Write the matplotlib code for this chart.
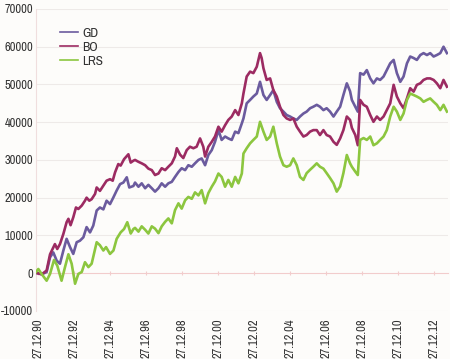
import matplotlib
matplotlib.use("Agg")
import matplotlib.pyplot as plt

plt.rcParams['font.family'] = ['Archivo Narrow', 'Liberation Sans Narrow', 'DejaVu Sans']

# ---- data (decimal years, values) ----
gd_years = [1990.95, 1991.20, 1991.47, 1991.66, 1991.84, 1992.03, 1992.21, 1992.40, 1992.58, 1992.77,
            1992.95, 1993.14, 1993.32, 1993.51, 1993.69, 1993.88, 1994.06, 1994.25, 1994.43, 1994.62,
            1994.80, 1994.99, 1995.18, 1995.36, 1995.55, 1995.73, 1995.92, 1996.06, 1996.29, 1996.38,
            1996.57, 1996.75, 1996.94, 1997.12, 1997.31, 1997.49, 1997.68, 1997.86, 1998.05, 1998.23,
            1998.42, 1998.60, 1998.79, 1998.97, 1999.16, 1999.34, 1999.53, 1999.71, 1999.90, 2000.08,
            2000.27, 2000.45, 2000.64, 2000.82, 2001.01, 2001.19, 2001.38, 2001.56, 2001.75, 2001.94,
            2002.12, 2002.31, 2002.40, 2002.58, 2002.77, 2002.95, 2003.14, 2003.32, 2003.51, 2003.69,
            2003.88, 2004.06, 2004.25, 2004.43, 2004.62, 2004.80, 2004.99, 2005.17, 2005.36, 2005.54,
            2005.73, 2005.91, 2006.10, 2006.28, 2006.47, 2006.65, 2006.84, 2007.02, 2007.21, 2007.40,
            2007.58, 2007.77, 2007.95, 2008.14, 2008.32, 2008.42, 2008.61, 2008.75, 2008.88, 2009.07,
            2009.25, 2009.44, 2009.62, 2009.81, 2009.99, 2010.18, 2010.36, 2010.55, 2010.74, 2010.92,
            2011.11, 2011.29, 2011.48, 2011.66, 2011.85, 2012.03, 2012.22, 2012.40, 2012.59, 2012.77,
            2012.96, 2013.14, 2013.33, 2013.51, 2013.70]
gd_values = [0, -300, 300, 4200, 5500, 3300, 2500, 6000, 9100, 6900,
             5100, 8200, 8600, 9500, 12200, 10800, 12600, 16600, 17400, 16900,
             19200, 18300, 20100, 21900, 23600, 24000, 25400, 22700, 23100, 24000,
             22900, 23800, 22500, 23400, 22500, 21600, 22500, 23800, 22900, 23800,
             24200, 25500, 26800, 27800, 27300, 28600, 28200, 29100, 30000, 30400,
             28600, 31300, 32600, 34800, 37900, 35300, 36200, 35700, 35300, 37500,
             37100, 39700, 41000, 45000, 45900, 46800, 47600, 50700, 47200, 45900,
             47200, 48500, 45400, 43700, 42800, 41900, 41500, 41000, 40600, 41500,
             42300, 42800, 43700, 44100, 44600, 44100, 43200, 43700, 42800, 41500,
             42800, 44100, 47200, 50300, 48200, 45900, 44100, 42800, 53000, 52600,
             53800, 51600, 50300, 51600, 51200, 52100, 53800, 55600, 56500, 53000,
             50700, 52100, 55600, 57400, 57000, 56500, 57800, 58300, 57800, 58300,
             57400, 57800, 58300, 60000, 58300]

bo_years = [1990.95, 1991.20, 1991.47, 1991.66, 1991.80, 1991.93, 1992.06, 1992.21, 1992.40, 1992.58,
            1992.68, 1992.80, 1992.95, 1993.10, 1993.23, 1993.42, 1993.60, 1993.69, 1993.84, 1993.97,
            1994.16, 1994.25, 1994.43, 1994.62, 1994.80, 1994.99, 1995.14, 1995.27, 1995.45, 1995.58,
            1995.77, 1996.01, 1996.14, 1996.29, 1996.38, 1996.57, 1996.75, 1996.94, 1997.12, 1997.31,
            1997.49, 1997.68, 1997.86, 1998.05, 1998.23, 1998.42, 1998.60, 1998.70, 1998.88, 1999.06,
            1999.25, 1999.43, 1999.62, 1999.80, 1999.99, 2000.17, 2000.27, 2000.45, 2000.64, 2000.82,
            2001.01, 2001.19, 2001.38, 2001.56, 2001.75, 2001.94, 2002.12, 2002.31, 2002.40, 2002.58,
            2002.77, 2002.95, 2003.14, 2003.32, 2003.41, 2003.51, 2003.69, 2003.88, 2004.06, 2004.25,
            2004.43, 2004.62, 2004.80, 2004.99, 2005.17, 2005.36, 2005.54, 2005.73, 2005.91, 2006.10,
            2006.28, 2006.47, 2006.65, 2006.84, 2007.02, 2007.21, 2007.40, 2007.58, 2007.77, 2007.95,
            2008.14, 2008.32, 2008.42, 2008.61, 2008.75, 2008.88, 2009.07, 2009.25, 2009.44, 2009.62,
            2009.81, 2009.99, 2010.18, 2010.36, 2010.55, 2010.74, 2010.92, 2011.11, 2011.29, 2011.48,
            2011.66, 2011.85, 2012.03, 2012.22, 2012.40, 2012.59, 2012.77, 2012.96, 2013.14, 2013.33,
            2013.51, 2013.70]
bo_values = [0, -300, 700, 5000, 6400, 7700, 6400, 7700, 10400, 13500,
             14400, 12700, 14800, 17400, 17000, 17900, 19200, 20000, 19200, 19600,
             21000, 22700, 21800, 23200, 24500, 24900, 24500, 26700, 28900, 28500,
             30200, 31500, 29300, 29800, 30000, 29500, 29100, 28600, 27700, 27300,
             26000, 26400, 27800, 27300, 28200, 29100, 30900, 33100, 31400, 30500,
             32600, 33500, 33100, 33500, 35700, 33500, 30900, 33500, 34800, 36200,
             38800, 37500, 39200, 40600, 41500, 43200, 41900, 45000, 47600, 52100,
             53400, 53000, 54700, 58300, 57000, 54300, 51200, 51600, 48500, 46800,
             44100, 41900, 41000, 40600, 41000, 38800, 37500, 36200, 36600, 37500,
             37900, 37900, 36600, 37900, 36600, 36200, 34800, 34000, 35700, 37900,
             41500, 40600, 38500, 36600, 33900, 45900, 44600, 44100, 41900, 40100,
             41500, 40600, 41500, 43200, 45000, 49900, 46800, 45000, 43700, 46300,
             49000, 48100, 49900, 50300, 51200, 51600, 51600, 51200, 50300, 49000,
             51200, 49400]

lrs_years = [1990.88, 1991.01, 1991.19, 1991.47, 1991.66, 1991.88, 1992.06, 1992.30, 1992.49, 1992.68,
             1992.86, 1993.05, 1993.23, 1993.42, 1993.60, 1993.79, 1993.97, 1994.25, 1994.43, 1994.62,
             1994.77, 1994.99, 1995.18, 1995.36, 1995.58, 1995.77, 1995.95, 1996.14, 1996.29, 1996.38,
             1996.57, 1996.75, 1996.94, 1997.12, 1997.31, 1997.49, 1997.68, 1997.86, 1998.05, 1998.23,
             1998.42, 1998.60, 1998.79, 1998.97, 1999.16, 1999.34, 1999.53, 1999.71, 1999.90, 2000.08,
             2000.27, 2000.45, 2000.64, 2000.82, 2001.01, 2001.19, 2001.38, 2001.56, 2001.75, 2001.94,
             2002.12, 2002.31, 2002.40, 2002.58, 2002.77, 2002.95, 2003.14, 2003.32, 2003.51, 2003.69,
             2003.88, 2004.06, 2004.25, 2004.43, 2004.62, 2004.80, 2004.99, 2005.17, 2005.36, 2005.54,
             2005.73, 2005.91, 2006.10, 2006.28, 2006.47, 2006.65, 2006.84, 2007.02, 2007.21, 2007.40,
             2007.58, 2007.77, 2007.95, 2008.14, 2008.32, 2008.42, 2008.61, 2008.75, 2008.88, 2009.07,
             2009.25, 2009.44, 2009.62, 2009.81, 2009.99, 2010.18, 2010.36, 2010.55, 2010.74, 2010.92,
             2011.11, 2011.29, 2011.48, 2011.66, 2011.85, 2012.03, 2012.22, 2012.40, 2012.59, 2012.77,
             2012.96, 2013.14, 2013.33, 2013.51, 2013.70]
lrs_values = [300, 1100, -200, -2000, -200, 3500, 2000, -2000, 1600, 5000,
              2500, -2800, -200, 300, 2900, 1600, 2500, 8200, 7400, 6000,
              6900, 5100, 6000, 9100, 10800, 11700, 13500, 10500, 11700, 12000,
              11000, 12400, 11500, 10500, 12400, 11800, 10600, 12400, 13600, 14500,
              13200, 16700, 18500, 17100, 19300, 20200, 19700, 21400, 20600, 22000,
              18500, 21200, 22900, 24300, 26400, 25500, 22900, 24700, 22900, 25500,
              23800, 26400, 31700, 33100, 34400, 35300, 36200, 40100, 37500, 35300,
              36200, 38800, 34400, 30900, 28600, 28200, 28600, 30400, 28600, 25500,
              24700, 26500, 27400, 28200, 29100, 28200, 27700, 26500, 25200, 23800,
              21600, 23000, 26500, 31300, 29100, 28200, 26900, 26000, 35300, 35800,
              35300, 36200, 33900, 34400, 35300, 36200, 37900, 41500, 44100, 42800,
              40600, 42300, 45900, 47600, 47200, 46800, 46300, 45400, 45900, 46300,
              45400, 44600, 43200, 44600, 42800]

tick_years = [1990.99, 1992.99, 1994.99, 1996.99, 1998.99, 2000.99,
              2002.99, 2004.99, 2006.99, 2008.99, 2010.99, 2012.99]
tick_labels = ['27.12.90', '27.12.92', '27.12.94', '27.12.96', '27.12.98', '27.12.00',
               '27.12.02', '27.12.04', '27.12.06', '27.12.08', '27.12.10', '27.12.12']
y_ticks = [-10000, 0, 10000, 20000, 30000, 40000, 50000, 60000, 70000]

series_names = ['GD', 'BO', 'LRS']
colors = ['#6b5b9e', '#9c2b62', '#8cc63f']

# ---- figure ----
fig = plt.figure(figsize=(4.5, 3.59), dpi=100)
bg = '#fdfcfa'
fig.patch.set_facecolor(bg)
ax = fig.add_axes([0.08, 0.134, 0.916, 0.841])
ax.set_facecolor(bg)

# axis line at zero (set before ticks, since it resets them)
for s in ['top', 'right']:
    ax.spines[s].set_visible(False)
ax.spines['bottom'].set_position(('data', 0))
ax.spines['bottom'].set_color('#f2cccc')
ax.spines['bottom'].set_linewidth(0.8)
ax.spines['left'].set_color('#f0dede')
ax.spines['left'].set_linewidth(0.8)

for yv in y_ticks:
    if yv != 0:
        ax.axhline(yv, color='#eeeae8', lw=0.8, zorder=0)

for name, xs, ys, c in zip(series_names, [gd_years, bo_years, lrs_years],
                           [gd_values, bo_values, lrs_values], colors):
    ax.plot(xs, ys, color=c, lw=1.9, label=name, zorder=3)

ax.set_xlim(1990.88, 2013.77)
ax.set_ylim(-10000, 70000)
ax.set_yticks(y_ticks)
ax.set_yticklabels([str(v) for v in y_ticks])
ax.set_xticks(tick_years)
ax.set_xticklabels(tick_labels)

ax.tick_params(axis='y', length=0, pad=2, labelsize=9, labelcolor='#333333')
ax.tick_params(axis='x', length=3, direction='inout', color='#f2cccc', pad=31,
               labelsize=9, labelcolor='#333333', labelrotation=90)
for lab in ax.get_xticklabels():
    lab.set_va('top')
    lab.set_ha('center')

leg = ax.legend(loc='upper left', bbox_to_anchor=(0.045, 0.955), frameon=False,
                fontsize=9.5, handlelength=1.4, handletextpad=0.3, labelspacing=0.2,
                borderaxespad=0)
for t in leg.get_texts():
    t.set_color('#333333')
for h in leg.get_lines():
    h.set_linewidth(1.2)

fig.savefig('out.png', dpi=100, facecolor=bg)
